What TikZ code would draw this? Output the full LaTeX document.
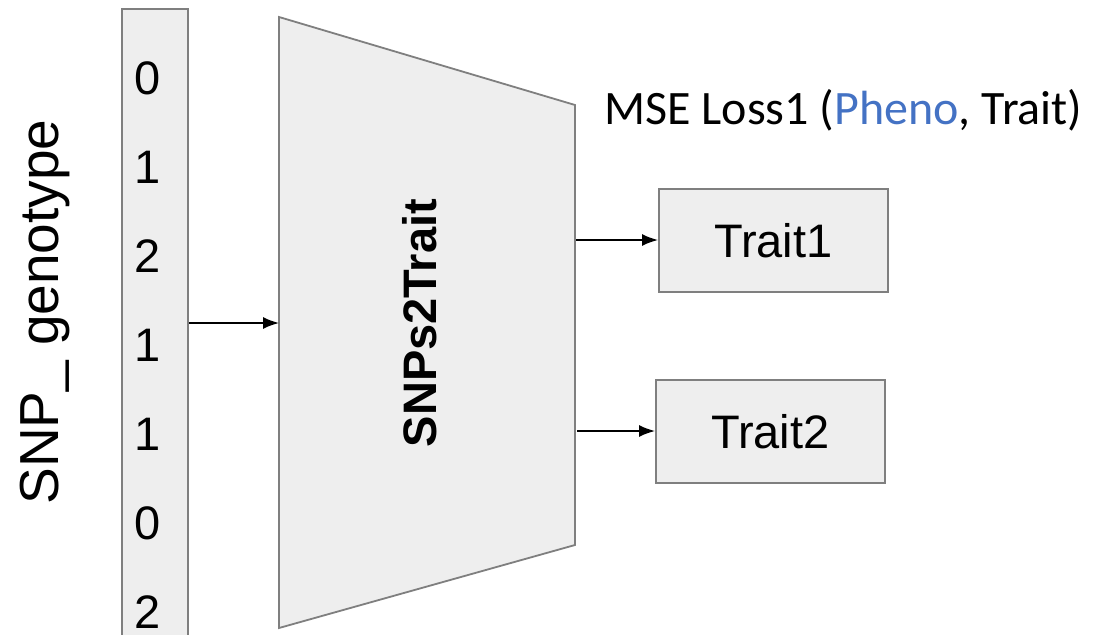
\documentclass[tikz,border=0pt]{standalone}
\usepackage{fontspec}
\setmainfont{Liberation Sans}
\newfontfamily\calib{Carlito}
\usetikzlibrary{arrows.meta}
\definecolor{boxfill}{HTML}{EEEEEE}
\definecolor{boxline}{HTML}{7F7F7F}
\definecolor{phenoblue}{HTML}{4472C4}
\tikzset{
  x=1pt, y=-1pt,
  graybox/.style={draw=boxline, fill=boxfill, line width=1.8pt, inner sep=0pt},
  arr/.style={-{Latex[length=16pt,width=12pt]}, line width=1.6pt},
  digit/.style={font=\fontsize{47}{50}\selectfont, inner sep=0pt, anchor=center},
}
\begin{document}
\begin{tikzpicture}
\useasboundingbox (0,0) rectangle (1107,634);
\clip (0,0) rectangle (1107,634);
% SNP column
\node[graybox, minimum width=66pt, minimum height=636pt, anchor=north west] (col) at (121,8) {};
\foreach \v/\y [count=\i] in {0/78,1/167,2/256,1/345,1/434,0/523,2/612}{
  \node[digit] (d\i) at (148,\y) {\v};
}
% rotated label
\node[rotate=90, font=\fontsize{55}{60}\selectfont, inner sep=0pt] (lab) at (45,312) {SNP\_ genotype};
% trapezoid
\coordinate (tl) at (279,17);
\coordinate (bl) at (279,628);
\coordinate (tr) at (575,105);
\coordinate (br) at (575,545);
\draw[draw=boxline, fill=boxfill, line width=1.8pt] (tl) -- (tr) -- (br) -- (bl) -- cycle;
\node[rotate=90, font=\bfseries\fontsize{47}{50}\selectfont, inner sep=0pt] (net) at (420,323) {SNPs2Trait};
\coordinate (in) at (279,323);
\coordinate (o1) at (576,240);
\coordinate (o2) at (577,431);
% outputs
\node[graybox, minimum width=229pt, minimum height=103pt, anchor=north west, font=\fontsize{47}{50}\selectfont] (t1) at (658,188) {Trait1};
\node[graybox, minimum width=229pt, minimum height=103pt, anchor=north west, font=\fontsize{47}{50}\selectfont] (t2) at (655,379) {Trait2};
% loss text
\node[anchor=west, inner sep=0pt, font=\calib\fontsize{48}{52}\selectfont] (loss) at (604,110) {MSE Loss1 (\textcolor{phenoblue}{Pheno}, Trait)};
% connectors
\draw[arr] (col.east |- in) -- (in);
\draw[arr] (o1) -- (t1.west |- o1);
\draw[arr] (o2) -- (t2.west |- o2);
\end{tikzpicture}
\end{document}
